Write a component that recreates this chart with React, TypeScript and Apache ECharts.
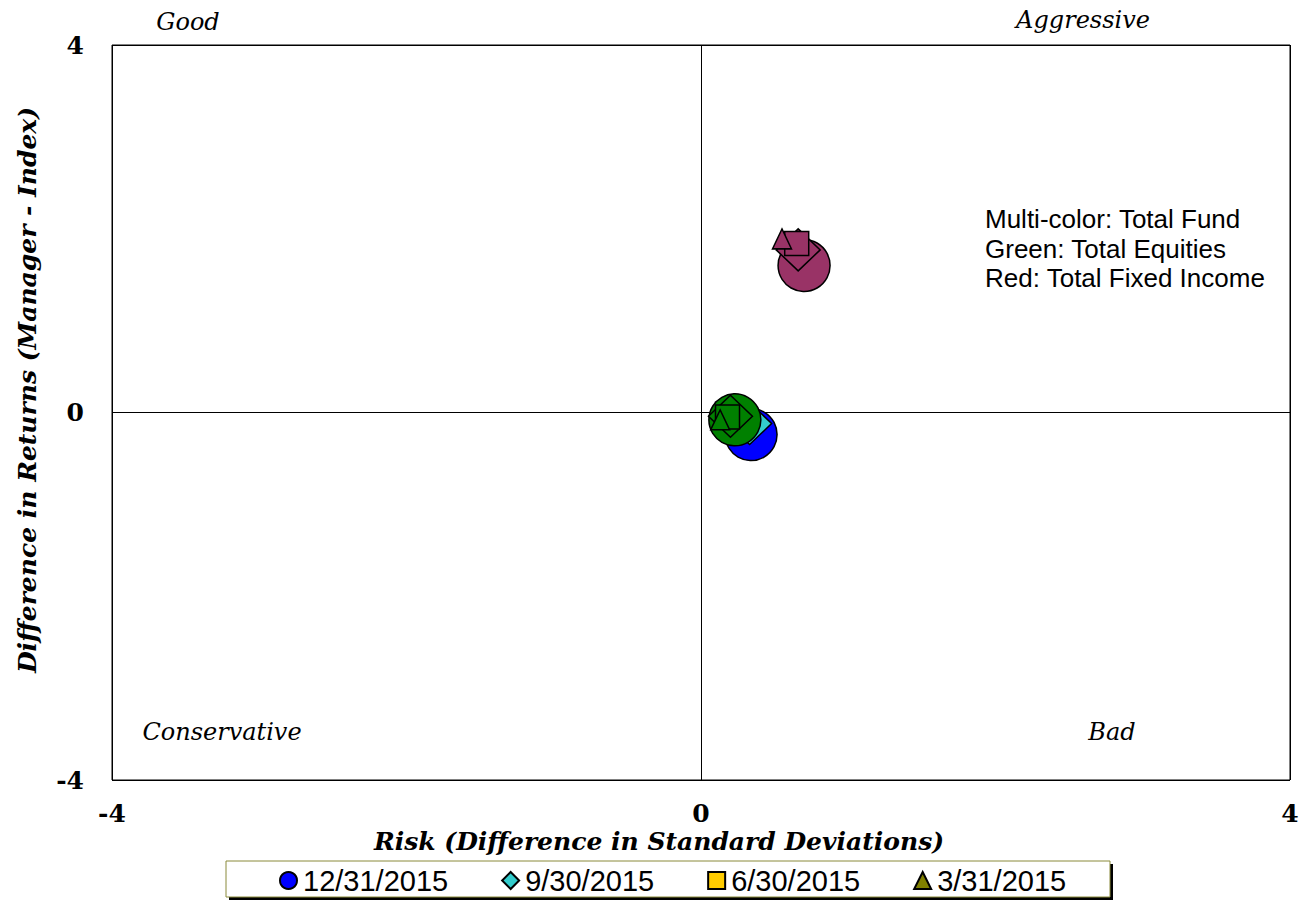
import React, { useEffect, useRef } from "react";
import * as echarts from "echarts";

const dates = ["12/31/2015", "9/30/2015", "6/30/2015", "3/31/2015"];
const dateSymbols = ["circle", "diamond", "rect", "triangle"];
const dateColors = ["#0000FF", "#33CCCC", "#FFCC00", "#808000"];
const totalFund = [[0.34, -0.24], [0.33, -0.12], [0.18, -0.02], [0.14, -0.09]];
const totalEquities = [[0.23, -0.08], [0.2, -0.04], [0.18, -0.05], [0.13, -0.08]];
const totalFixedIncome = [[0.7, 1.6], [0.66, 1.77], [0.65, 1.84], [0.55, 1.89]];
const equitiesColor = "#008000";
const fixedIncomeColor = "#993366";
const axisMin = -4;
const axisMax = 4;
const axisStep = 4;
const noteLines = ["Multi-color: Total Fund", "Green: Total Equities", "Red: Total Fixed Income"];
const quadrantLabels = ["Good", "Aggressive", "Conservative", "Bad"];
const xTitle = "Risk (Difference in Standard Deviations)";
const yTitle = "Difference in Returns (Manager - Index)";

const SERIF = "'DejaVu Serif', 'Liberation Serif', serif";
const SANS = "'Liberation Sans', Arial, sans-serif";
const symbolSizes: any[] = [52, [44, 42], 24, [19, 20]];

export default function App() {
  const ref = useRef<HTMLDivElement>(null);
  useEffect(() => {
    document.body.style.margin = "0";
    const chart = echarts.init(ref.current!, null, { renderer: "svg" });
    const series: any[] = [];
    const groups = [
      { key: "", data: totalFund, color: null as string | null },
      { key: "Total Equities ", data: totalEquities, color: equitiesColor },
      { key: "Total Fixed Income ", data: totalFixedIncome, color: fixedIncomeColor },
    ];
    groups.forEach((g) => {
      dates.forEach((d, i) => {
        series.push({
          name: g.key + d,
          type: "scatter",
          symbol: dateSymbols[i],
          symbolSize: symbolSizes[i],
          data: [g.data[i]],
          itemStyle: {
            color: g.color || dateColors[i],
            borderColor: "#000",
            borderWidth: 1.5,
            opacity: 1,
          },
          emphasis: { disabled: true },
        });
      });
    });
    const option: any = {
      animation: false,
      backgroundColor: "#fff",
      grid: {
        left: 112,
        top: 45,
        width: 1178,
        height: 735,
        show: true,
        borderColor: "#000",
        borderWidth: 1,
        backgroundColor: "transparent",
      },
      xAxis: {
        type: "value",
        min: axisMin,
        max: axisMax,
        interval: axisStep,
        axisLine: { show: false },
        axisTick: { show: false },
        splitLine: { show: true, lineStyle: { color: "#000", width: 1 } },
        axisLabel: {
          margin: 21,
          fontFamily: SERIF,
          fontWeight: "bold",
          fontSize: 25,
          color: "#000",
        },
      },
      yAxis: {
        type: "value",
        min: axisMin,
        max: axisMax,
        interval: axisStep,
        axisLine: { show: false },
        axisTick: { show: false },
        splitLine: { show: true, lineStyle: { color: "#000", width: 1 } },
        axisLabel: {
          margin: 28,
          fontFamily: SERIF,
          fontWeight: "bold",
          fontSize: 25,
          color: "#000",
        },
      },
      legend: {
        data: dates,
        left: 279,
        top: 866,
        padding: 0,
        itemWidth: 17,
        itemHeight: 17,
        itemGap: 53,
        z: 10,
        selectedMode: false,
        textStyle: { fontFamily: SANS, fontSize: 29, color: "#000", padding: [0, 0, 0, 1] },
      },
      graphic: [
        { type: "rect", z: 0, shape: { x: 229, y: 864, width: 884, height: 36 }, style: { fill: "#000" } },
        { type: "rect", z: 1, shape: { x: 226, y: 861, width: 884, height: 36 }, style: { fill: "#fff", stroke: "#8a8a3a", lineWidth: 1 } },
        { type: "text", z: 5, x: 188, y: 22, style: { text: quadrantLabels[0], font: `italic 24px ${SERIF}`, fill: "#000", align: "center", verticalAlign: "middle" } },
        { type: "text", z: 5, x: 1083, y: 20, style: { text: quadrantLabels[1], font: `italic 24px ${SERIF}`, fill: "#000", align: "center", verticalAlign: "middle" } },
        { type: "text", z: 5, x: 222, y: 732, style: { text: quadrantLabels[2], font: `italic 24px ${SERIF}`, fill: "#000", align: "center", verticalAlign: "middle" } },
        { type: "text", z: 5, x: 1112, y: 732, style: { text: quadrantLabels[3], font: `italic 24px ${SERIF}`, fill: "#000", align: "center", verticalAlign: "middle" } },
        ...noteLines.map((t, i) => ({
          type: "text", z: 5, x: 985, y: 219 + i * 29.5,
          style: { text: t, font: `26px ${SANS}`, fill: "#000", align: "left", verticalAlign: "middle" },
        })),
        { type: "text", z: 5, x: 659, y: 841, style: { text: xTitle, font: `italic bold 25px ${SERIF}`, fill: "#000", align: "center", verticalAlign: "middle" } },
        { type: "text", z: 5, x: 27, y: 390, rotation: Math.PI / 2, style: { text: yTitle, font: `italic bold 25px ${SERIF}`, fill: "#000", align: "center", verticalAlign: "middle" } },
      ],
      series,
    };
    chart.setOption(option);
    return () => chart.dispose();
  }, []);
  return <div ref={ref} style={{ width: 1306, height: 903 }} />;
}
